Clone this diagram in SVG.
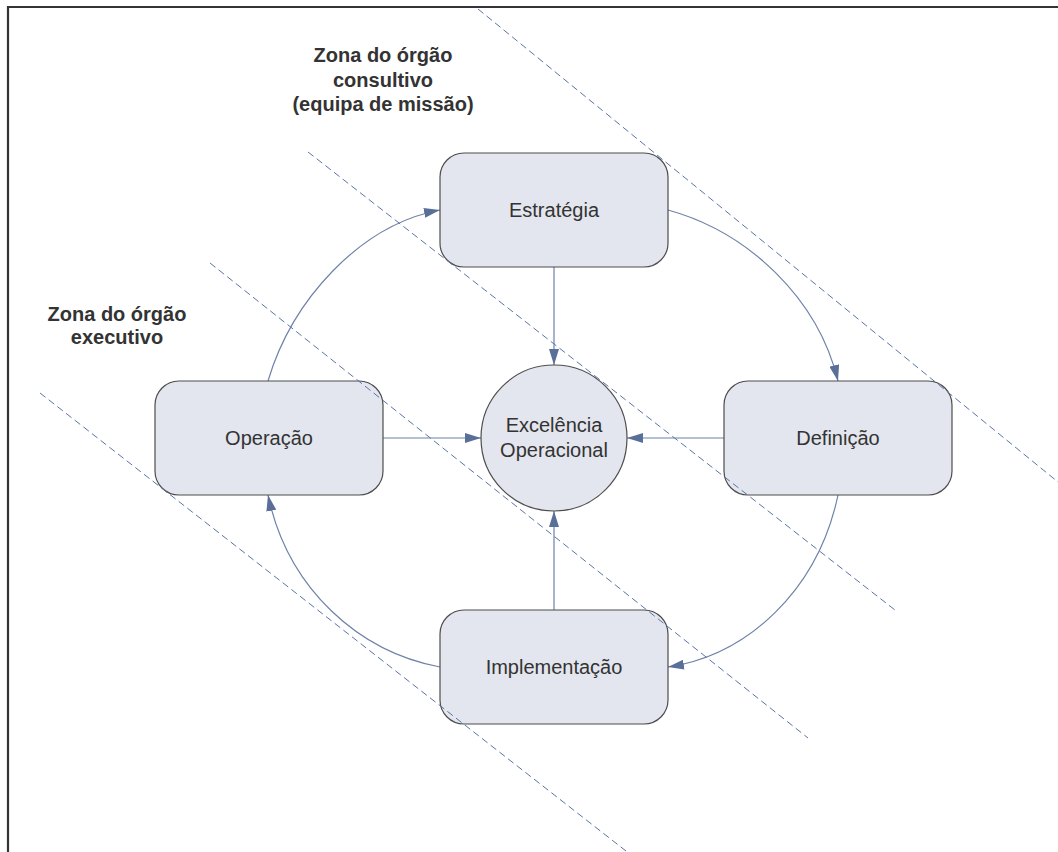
<svg xmlns="http://www.w3.org/2000/svg" width="1058" height="852" viewBox="0 0 1058 852">
  <defs>
    <marker id="arrow" viewBox="0 0 16 10" refX="16" refY="5" markerWidth="16" markerHeight="10" markerUnits="userSpaceOnUse" orient="auto">
      <path d="M0,0 L16,5 L0,10 Z" fill="#5a6f98"/>
    </marker>
    <style>
      .node { fill: #e3e6ee; stroke: #4d4d4d; stroke-width: 1.2; }
      .label { font-family: "Liberation Sans", Arial, sans-serif; font-size: 20px; fill: #333333; text-anchor: middle; }
      .zone { font-family: "Liberation Sans", Arial, sans-serif; font-size: 20px; font-weight: bold; fill: #333333; text-anchor: middle; }
      .conn { fill: none; stroke: #6f82a8; stroke-width: 1.2; marker-end: url(#arrow); }
      .boundary { fill: none; stroke: #5a74a6; stroke-width: 1; stroke-dasharray: 7 4; }
      .frame { fill: none; stroke: #333338; stroke-width: 2.2; }
    </style>
  </defs>

  <rect width="1058" height="852" fill="#ffffff"/>

  <!-- frame -->
  <path class="frame" d="M8,852 L8,7 L1058,7"/>

  <!-- zone titles -->
  <g id="zone-consultivo">
    <text class="zone" x="383" y="62">Zona do órgão</text>
    <text class="zone" x="383" y="87">consultivo</text>
    <text class="zone" x="383" y="111">(equipa de missão)</text>
  </g>
  <g id="zone-executivo">
    <text class="zone" x="117" y="321">Zona do órgão</text>
    <text class="zone" x="117" y="344">executivo</text>
  </g>

  <!-- connectors -->
  <g id="connectors">
    <path class="conn" d="M268,381 C292,300 360,225 440,210"/>
    <path class="conn" d="M668,210 C748,232 818,298 838,381"/>
    <path class="conn" d="M838,495 C818,590 748,655 668,667"/>
    <path class="conn" d="M440,667 C360,652 288,590 268,495"/>
    <path class="conn" d="M554,267 L554,365"/>
    <path class="conn" d="M383,438 L481,438"/>
    <path class="conn" d="M724,438 L627,438"/>
    <path class="conn" d="M554,610 L554,511"/>
  </g>

  <!-- nodes -->
  <g id="node-estrategia">
    <rect class="node" x="440" y="153" width="228" height="114" rx="24" ry="24"/>
    <text class="label" x="554" y="217">Estratégia</text>
  </g>
  <g id="node-operacao">
    <rect class="node" x="155" y="381" width="228" height="114" rx="24" ry="24"/>
    <text class="label" x="269" y="445">Operação</text>
  </g>
  <g id="node-definicao">
    <rect class="node" x="724" y="381" width="228" height="114" rx="24" ry="24"/>
    <text class="label" x="838" y="445">Definição</text>
  </g>
  <g id="node-implementacao">
    <rect class="node" x="440" y="610" width="228" height="114" rx="24" ry="24"/>
    <text class="label" x="554" y="674">Implementação</text>
  </g>
  <g id="node-excelencia">
    <circle class="node" cx="554" cy="438" r="73"/>
    <text class="label" x="554" y="432">Excelência</text>
    <text class="label" x="554" y="457">Operacional</text>
  </g>

  <!-- zone boundaries -->
  <g id="boundaries">
    <line class="boundary" x1="478" y1="9" x2="1058" y2="482"/>
    <line class="boundary" x1="308" y1="152" x2="895" y2="610"/>
    <line class="boundary" x1="210" y1="263" x2="808" y2="738"/>
    <line class="boundary" x1="40" y1="393" x2="626" y2="851"/>
  </g>
</svg>
